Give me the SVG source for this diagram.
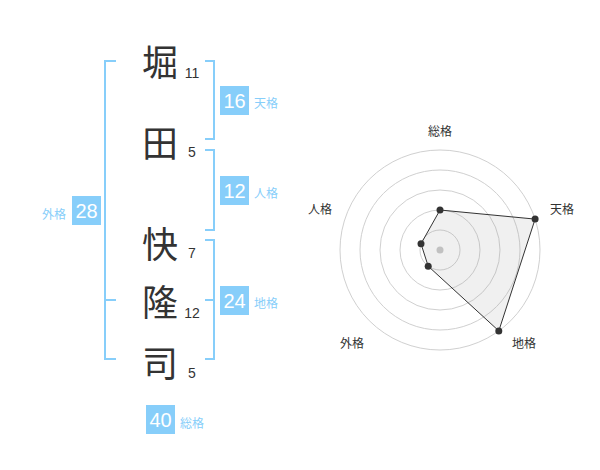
<svg xmlns="http://www.w3.org/2000/svg" width="600" height="470" viewBox="0 0 600 470">
<style>
.kanji{font-family:"Noto Sans CJK JP","Noto Sans CJK SC",sans-serif;font-size:36px;fill:#333;text-anchor:middle;dominant-baseline:central}
.num{font-family:"Liberation Sans",Arial,sans-serif;font-size:14px;fill:#333;text-anchor:middle}
.box{fill:#87cefa}
.boxnum{font-family:"Liberation Sans",Arial,sans-serif;font-size:20px;fill:#fff;text-anchor:middle}
.lbl{font-family:"Noto Sans CJK JP",sans-serif;font-size:12px;fill:#87cefa;dominant-baseline:central}
.br{fill:none;stroke:#87cefa;stroke-width:2}
.ring{fill:none;stroke:#d0d0d0;stroke-width:1}
.axis{font-family:"Noto Sans CJK JP",sans-serif;font-size:12px;fill:#333;text-anchor:middle;dominant-baseline:central}
.pt{fill:#333}
</style>
<rect width="600" height="470" fill="#fff"/>
<g id="connectors">
<path class="br" d="M116,61 H105 V359 H116 M105,300 H116"/>
<path class="br" d="M205,61 H214 V139 H205"/>
<path class="br" d="M205,150 H214 V230 H205"/>
<path class="br" d="M205,240 H214 V359 H205 M205,300 H214"/>
</g>
<g id="char1"><text class="kanji" x="160" y="60">堀</text><text class="num" x="192" y="78">11</text></g>
<g id="char2"><text class="kanji" x="160" y="141">田</text><text class="num" x="192" y="157">5</text></g>
<g id="char3"><text class="kanji" x="160" y="242">快</text><text class="num" x="192" y="258">7</text></g>
<g id="char4"><text class="kanji" x="160" y="300">隆</text><text class="num" x="192" y="318">12</text></g>
<g id="char5"><text class="kanji" x="160" y="361">司</text><text class="num" x="192" y="378">5</text></g>
<g id="tenkaku"><rect class="box" x="220" y="86" width="29" height="29"/><text class="boxnum" x="234.5" y="107.7">16</text><text class="lbl" x="254" y="102">天格</text></g>
<g id="jinkaku"><rect class="box" x="220" y="176" width="29" height="29"/><text class="boxnum" x="234.5" y="197.7">12</text><text class="lbl" x="254" y="192">人格</text></g>
<g id="chikaku"><rect class="box" x="220" y="286" width="29" height="29"/><text class="boxnum" x="234.5" y="307.7">24</text><text class="lbl" x="254" y="302">地格</text></g>
<g id="gaikaku"><rect class="box" x="72" y="196" width="29" height="29"/><text class="boxnum" x="86.5" y="217.7">28</text><text class="lbl" x="42" y="213">外格</text></g>
<g id="soukaku"><rect class="box" x="146" y="405" width="29" height="29"/><text class="boxnum" x="160.5" y="426.7">40</text><text class="lbl" x="180" y="422">総格</text></g>
<g id="radar">
<circle class="ring" cx="440" cy="250" r="20"/>
<circle class="ring" cx="440" cy="250" r="40"/>
<circle class="ring" cx="440" cy="250" r="60"/>
<circle class="ring" cx="440" cy="250" r="80"/>
<circle class="ring" cx="440" cy="250" r="100"/>
<circle cx="440" cy="250" r="3.5" fill="#c8c8c8"/>
<polygon points="440,210 535.1,219.1 498.8,330.9 428.2,266.2 421,243.8" fill="#999" fill-opacity="0.15" stroke="#333" stroke-width="1"/>
<circle class="pt" cx="440" cy="210" r="3.5"/>
<circle class="pt" cx="535.1" cy="219.1" r="3.5"/>
<circle class="pt" cx="498.8" cy="330.9" r="3.5"/>
<circle class="pt" cx="428.2" cy="266.2" r="3.5"/>
<circle class="pt" cx="421" cy="243.8" r="3.5"/>
<text class="axis" x="440" y="130">総格</text>
<text class="axis" x="562" y="208">天格</text>
<text class="axis" x="524" y="342">地格</text>
<text class="axis" x="352" y="342">外格</text>
<text class="axis" x="320" y="208">人格</text>
</g>
</svg>
